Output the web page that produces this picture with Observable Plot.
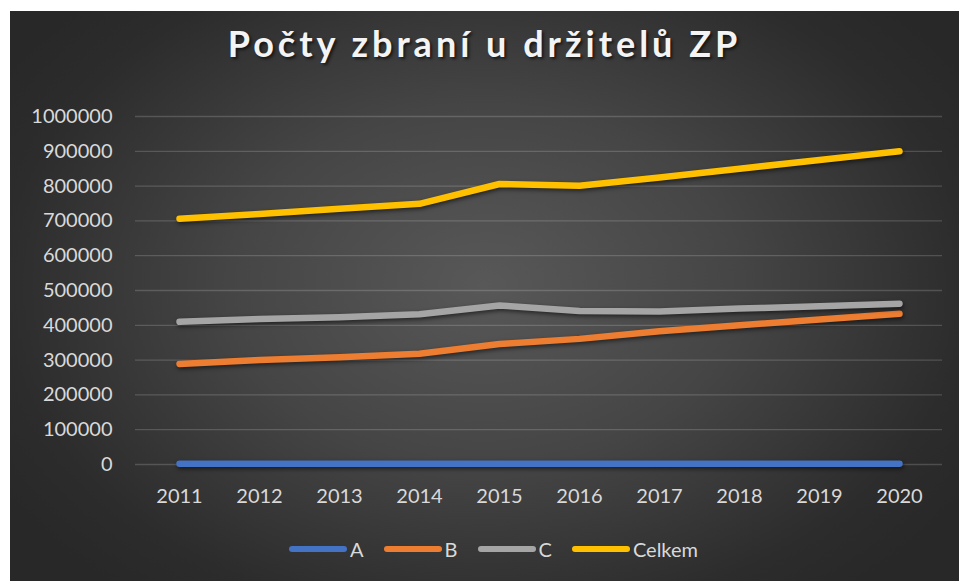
<!DOCTYPE html>
<html>
<head>
<meta charset="utf-8">
<script src="https://cdn.jsdelivr.net/npm/d3@7"></script>
<script src="https://cdn.jsdelivr.net/npm/@observablehq/plot@0.6"></script>
<style>
  html, body { margin: 0; padding: 0; background: #ffffff; }
  #frame {
    position: absolute; left: 10px; top: 11px; width: 949px; height: 570px;
    background: radial-gradient(ellipse 60% 70% at 50% 48%, #585858 0%, #454545 45%, #2c2c2c 85%, #282828 100%);
    font-family: Lato, "Open Sans", sans-serif; overflow: hidden;
  }
  #title {
    position: absolute; left: 0; top: 11px; width: 949px; text-align: center;
    font-size: 36px; font-weight: 700; letter-spacing: 4px; color: #f4f4f4; line-height: 1.2;
    text-shadow: 2px 2px 3px rgba(0,0,0,0.6);
  }
  #chart { position: absolute; left: 0; top: 79px; }
  #chart svg .lines path { filter: drop-shadow(1px 2px 2px rgba(0,0,0,0.55)); }
  #legend {
    position: absolute; left: 0; top: 525px; width: 949px; display: flex; justify-content: center;
    padding-left: 18px; box-sizing: border-box; color: #d9d9d9; font-size: 20px; line-height: 26px;
  }
  .item { display: flex; align-items: center; margin: 0 10px; }
  .sw { width: 58px; height: 6px; border-radius: 3px; margin-right: 3px; }
</style>
</head>
<body>
<div id="frame">
  <div id="title">Počty zbraní u držitelů ZP</div>
  <div id="chart"></div>
  <div id="legend"></div>
</div>
<script>
const years = [2011, 2012, 2013, 2014, 2015, 2016, 2017, 2018, 2019, 2020];
const seriesNames = ["A", "B", "C", "Celkem"];
const seriesColors = ["#4472c4", "#ed7d31", "#a5a5a5", "#ffc000"];
const valuesA = [2500, 2400, 1800, 1900, 2000, 2000, 2100, 2100, 2200, 2200];
const valuesB = [289000, 300000, 308000, 318000, 346000, 361000, 383000, 400000, 417000, 433000];
const valuesC = [410000, 418000, 423000, 432000, 457000, 441000, 440000, 448000, 455000, 462000];
const valuesCelkem = [706000, 720000, 735000, 749000, 806000, 801000, 825000, 850000, 875000, 900000];
const yTicks = [0, 100000, 200000, 300000, 400000, 500000, 600000, 700000, 800000, 900000, 1000000];

const allValues = [valuesA, valuesB, valuesC, valuesCelkem];
const data = [];
seriesNames.forEach((s, i) => years.forEach((y, j) => data.push({series: s, year: y, value: allValues[i][j]})));

const chart = Plot.plot({
  width: 949, height: 430,
  marginTop: 26, marginBottom: 56, marginLeft: 125, marginRight: 17,
  style: {background: "transparent", color: "#d9d9d9", fontFamily: "Lato, 'Open Sans', sans-serif", fontSize: "20px"},
  x: {type: "point", domain: years, padding: 0.5, label: null},
  y: {domain: [0, 1000000], label: null},
  color: {domain: seriesNames, range: seriesColors},
  marks: [
    Plot.ruleY(yTicks, {stroke: "#ffffff", strokeOpacity: 0.17, strokeWidth: 1.3}),
    Plot.axisY(yTicks, {tickSize: 0, tickPadding: 23, tickFormat: d => String(d), fontSize: 20, fill: "#d9d9d9", label: null}),
    Plot.axisX(years, {tickSize: 0, tickPadding: 24, tickFormat: d => String(d), fontSize: 20, fill: "#d9d9d9", label: null}),
    Plot.line(data, {x: "year", y: "value", z: "series", stroke: "series", strokeWidth: 6.5,
      strokeLinecap: "round", strokeLinejoin: "round", className: "lines"})
  ]
});
document.getElementById("chart").appendChild(chart);

const legend = document.getElementById("legend");
seriesNames.forEach((s, i) => {
  const item = document.createElement("div");
  item.className = "item";
  const sw = document.createElement("span");
  sw.className = "sw";
  sw.style.background = seriesColors[i];
  const t = document.createElement("span");
  t.textContent = s;
  item.appendChild(sw); item.appendChild(t);
  legend.appendChild(item);
});
</script>
</body>
</html>
